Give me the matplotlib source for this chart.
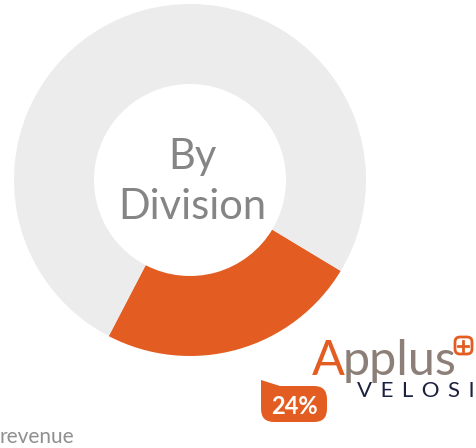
import matplotlib.pyplot as plt
from matplotlib.patches import FancyBboxPatch, Polygon

# share of revenue by division
labels = ['Applus Velosi', 'Other divisions']
shares = [24, 76]
colors = ['#e35d22', '#ececec']
share_label = '24%'

W, H = 477, 448
fig = plt.figure(figsize=(W / 100, H / 100), dpi=100)
ax = fig.add_axes([0, 0, 1, 1])
ax.set_xlim(0, W)
ax.set_ylim(0, H)
ax.set_aspect('equal')
ax.axis('off')

ax.pie(shares, colors=colors, center=(190, 448 - 180), radius=176,
       startangle=-117.5, counterclock=True,
       wedgeprops=dict(width=80, edgecolor='none'))
ax.set_xlim(0, W)
ax.set_ylim(0, H)

font = ['Lato', 'DejaVu Sans']
ax.text(192, 448 - 157, 'By', ha='center', va='center', fontsize=30,
        color='#858585', family=font)
ax.text(192, 448 - 207, 'Division', ha='center', va='center', fontsize=30,
        color='#858585', family=font)

# logo
ax.text(312, 448 - 375, 'A', ha='left', va='baseline', fontsize=35,
        color='#e35d22', family=font)
ax.text(343, 448 - 375, 'pplus', ha='left', va='baseline', fontsize=35,
        color='#8c7f77', family=font)
box = FancyBboxPatch((455, 448 - 354), 17, 17, boxstyle='round,pad=0,rounding_size=5',
                     facecolor='white', edgecolor='#e35d22', linewidth=2)
ax.add_patch(box)
ax.plot([458.5, 468.5], [448 - 345.5, 448 - 345.5], color='#e35d22', lw=2)
ax.plot([463.5, 463.5], [448 - 350.5, 448 - 340.5], color='#e35d22', lw=2)
velosi = ' \u2009'.join('VELOSI')
ax.text(357, 448 - 397, velosi, ha='left', va='baseline', fontsize=16,
        color='#1c2140', family=font)

# share badge
badge = FancyBboxPatch((261, 448 - 422), 66, 36, boxstyle='round,pad=0,rounding_size=13',
                       facecolor='#e35d22', edgecolor='none')
ax.add_patch(badge)
ax.add_patch(Polygon([[261, 448 - 380], [261, 448 - 400], [280, 448 - 386]],
                     closed=True, facecolor='#e35d22', edgecolor='none'))
ax.text(294, 448 - 406, share_label, ha='center', va='center', fontsize=17,
        color='white', family=font, fontweight='bold')

ax.text(-1, 448 - 437, 'revenue', ha='left', va='center', fontsize=15,
        color='#8f8f8f', family=font)

fig.savefig('out.png', dpi=100)
